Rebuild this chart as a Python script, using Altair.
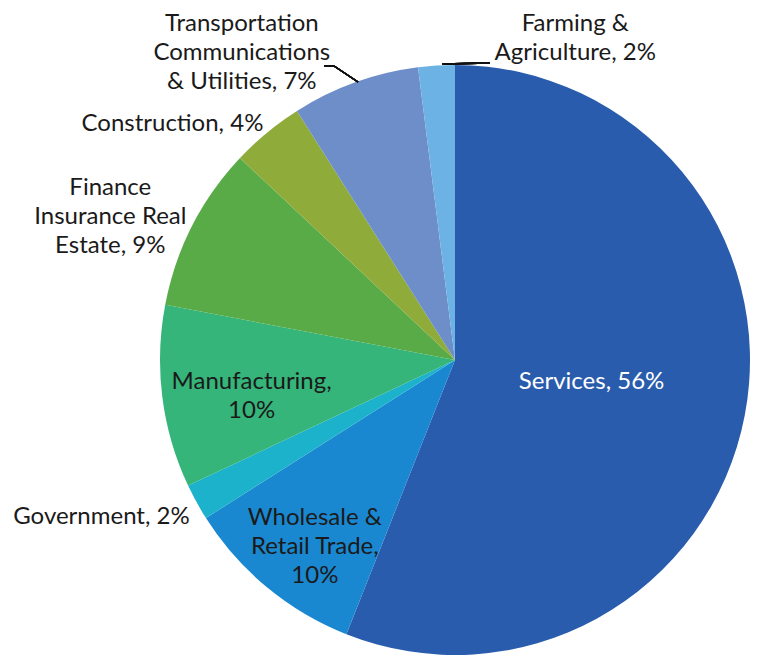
import altair as alt
import pandas as pd

# ---- data ----
categories = [
    "Services",
    "Wholesale & Retail Trade",
    "Government",
    "Manufacturing",
    "Finance Insurance Real Estate",
    "Construction",
    "Transportation Communications & Utilities",
    "Farming & Agriculture",
]
shares = [56, 10, 2, 10, 9, 4, 7, 2]
label_texts = [
    "Services, 56%",
    "Wholesale &\nRetail Trade,\n10%",
    "Government, 2%",
    "Manufacturing,\n10%",
    "Finance\nInsurance Real\nEstate, 9%",
    "Construction, 4%",
    "Transportation\nCommunications\n& Utilities, 7%",
    "Farming &\nAgriculture, 2%",
]
colors = ["#2a5cad", "#1a88d0", "#1cb2cc", "#36b57a", "#58ab46",
          "#8fab3a", "#6d8ec8", "#6cb2e4"]

df = pd.DataFrame({"idx": list(range(len(categories))), "category": categories,
                   "share": shares, "label": label_texts})

# ---- layout (not data) ----
CX, CY, R = 447, 352, 295
label_layout = {
    "Services": dict(radius=137, dx=2, dy=-4, align="center", color="white"),
    "Wholesale & Retail Trade": dict(radius=234, dx=9, dy=-22, align="center", color="#1a1a1a"),
    "Government": dict(radius=305, dx=2, dy=10, align="right", color="#1a1a1a"),
    "Manufacturing": dict(radius=205, dx=0, dy=-4, align="center", color="#1a1a1a"),
    "Finance Insurance Real Estate": dict(radius=370, dx=-15, dy=-4, align="center", color="#1a1a1a"),
    "Construction": dict(radius=368, dx=-48, dy=48, align="center", color="#1a1a1a"),
    "Transportation Communications & Utilities": dict(radius=340, dx=-98, dy=-16, align="center", color="#1a1a1a"),
    "Farming & Agriculture": dict(radius=330, dx=141, dy=-7, align="center", color="#1a1a1a"),
}

theta_scale = alt.Scale(domain=[0, 100])
base = alt.Chart(df)

pie = base.mark_arc(radius=R, stroke=None).encode(
    theta=alt.Theta("share:Q", stack=True, scale=theta_scale),
    order=alt.Order("idx:Q"),
    color=alt.Color("category:N", scale=alt.Scale(domain=categories, range=colors), legend=None),
    x=alt.value(CX),
    y=alt.value(CY),
)

labelled = base.transform_window(
    cum="sum(share)", sort=[alt.SortField("idx")], frame=[None, 0]
).transform_calculate(mid="datum.cum - datum.share / 2")

layers = [pie]
for cat, lay in label_layout.items():
    layers.append(
        labelled.transform_filter(alt.datum.category == cat).mark_text(
            radius=lay["radius"], dx=lay["dx"], dy=lay["dy"], align=lay["align"],
            baseline="middle", font="Lato", fontSize=24, lineHeight=29,
            lineBreak="\n", color=lay["color"],
        ).encode(
            theta=alt.Theta("mid:Q", stack=None, scale=theta_scale),
            text="label:N",
            x=alt.value(CX),
            y=alt.value(CY),
        )
    )

# leader lines
leader1a = base.mark_rule(color="#111111", strokeWidth=1.5).encode(
    x=alt.value(316), x2=alt.value(326), y=alt.value(58), y2=alt.value(58))
leader1b = base.mark_rule(color="#111111", strokeWidth=1.5).encode(
    x=alt.value(326), x2=alt.value(350), y=alt.value(58), y2=alt.value(74))
leader2 = base.mark_rule(color="#111111", strokeWidth=1.5).encode(
    x=alt.value(434), x2=alt.value(482), y=alt.value(56), y2=alt.value(55))

chart = alt.layer(*layers, leader1a, leader1b, leader2).properties(
    width=743, height=644, padding=0
).configure(background="white", view=alt.ViewConfig(stroke=None))

chart.save("out.html", embed_options={"renderer": "svg", "actions": False})
